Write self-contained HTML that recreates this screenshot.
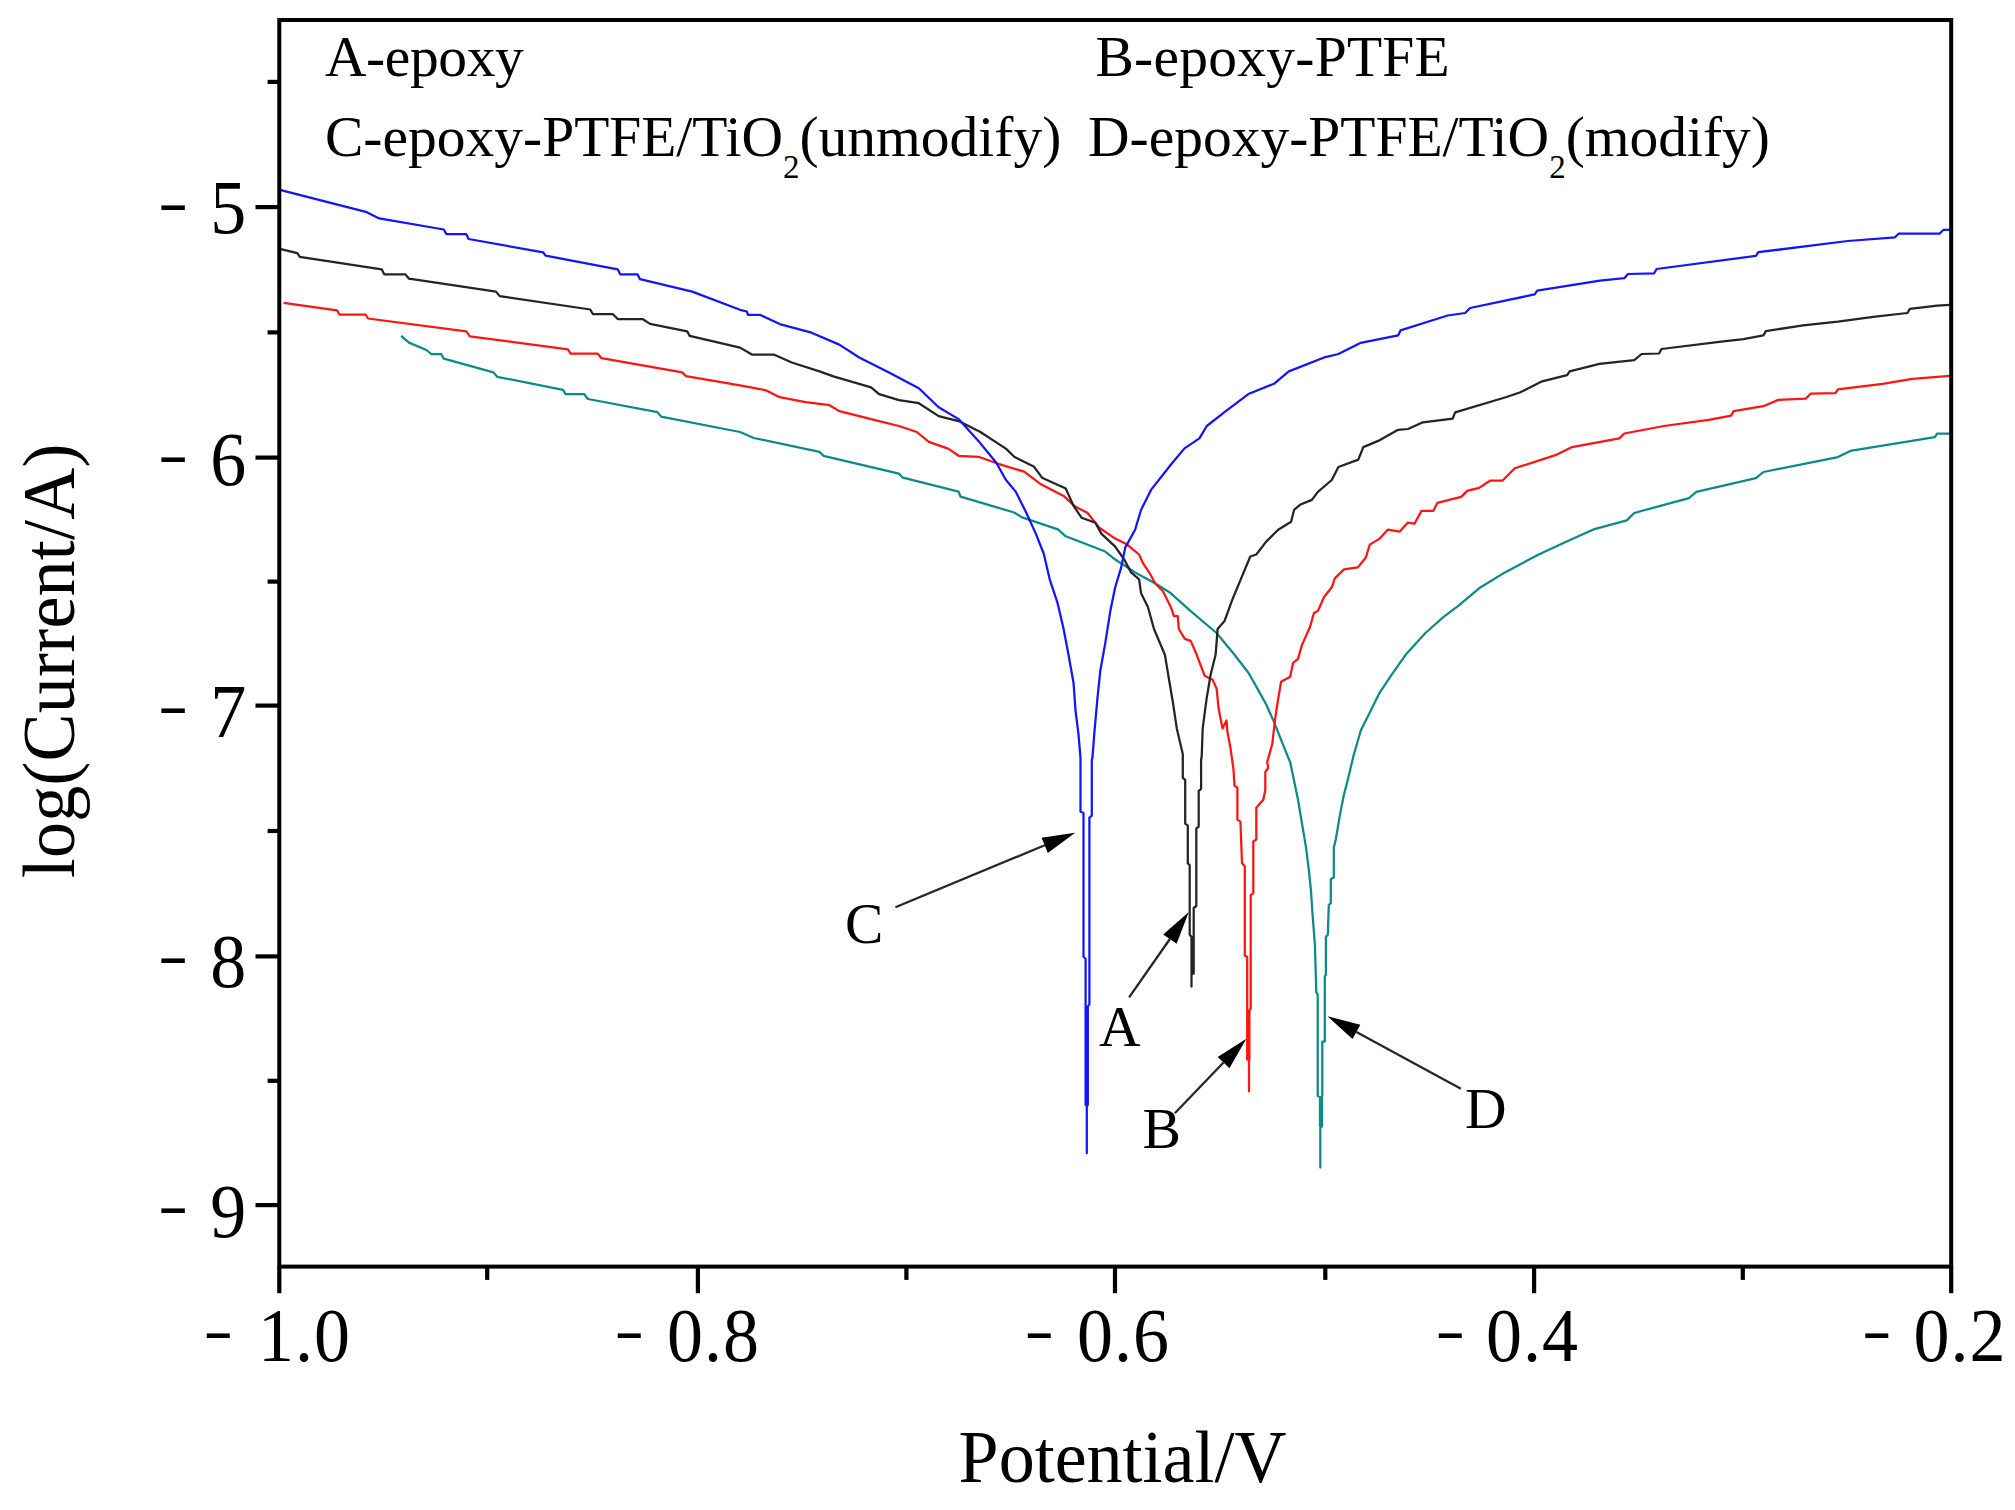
<!DOCTYPE html>
<html lang="en"><head><meta charset="utf-8"><title>Potentiodynamic polarization curves</title>
<style>html,body{margin:0;padding:0;background:#fff}body{width:2015px;height:1510px;overflow:hidden}svg{display:block}text{font-family:"Liberation Serif","Times New Roman",serif;fill:#000}</style>
</head><body>
<svg width="2015" height="1510" viewBox="0 0 2015 1510">
<rect x="0" y="0" width="2015" height="1510" fill="#fff"/>
<g id="curves">
<polyline points="401.1,335.9 409.0,342.6 426.4,350.0 431.4,354.2 441.3,354.2 443.8,358.7 493.5,372.4 497.2,376.8 563.0,389.8 565.5,394.0 584.1,394.0 587.9,399.0 657.4,412.1 661.1,416.6 740.0,432.0 753.9,438.0 819.5,451.9 823.5,455.8 899.0,473.7 902.9,477.7 958.6,491.6 960.5,496.6 1014.2,512.5 1022.1,517.4 1057.9,529.4 1065.8,536.3 1105.3,551.5 1115.2,559.5 1135.1,572.4 1155.0,583.3 1170.9,593.3 1190.7,611.1 1216.6,633.0 1234.5,654.8 1248.4,672.7 1256.3,686.6 1266.2,704.5 1274.2,722.4 1282.1,742.3 1290.1,762.1 1293.1,775.9 1298.0,799.7 1302.0,823.6 1306.0,847.4 1309.0,871.3 1311.0,891.1 1312.3,911.0 1314.9,944.8 1316.3,992.5 1317.7,994.5 1317.7,1096.0 1320.0,1097.0 1320.0,1126.5 1320.3,1126.5 1320.3,1167.6 1320.3,1126.5 1322.0,1126.5 1322.0,1097.0 1322.3,1096.0 1322.3,1041.5 1324.8,1041.5 1324.8,976.6 1325.9,974.6 1325.9,936.8 1327.8,934.8 1328.8,905.0 1330.8,903.1 1330.8,879.2 1333.8,877.2 1333.8,847.4 1335.8,839.5 1339.8,815.6 1343.7,795.8 1348.7,775.9 1353.9,754.2 1360.9,730.3 1369.8,712.5 1379.7,692.6 1391.7,674.7 1405.6,654.8 1425.4,633.0 1443.3,617.1 1459.2,605.2 1479.1,588.3 1504.9,572.4 1538.7,554.5 1564.5,542.6 1588.4,531.7 1594.5,529.1 1626.8,520.4 1634.2,513.0 1688.9,498.1 1696.3,491.8 1755.9,478.2 1763.4,472.0 1837.9,457.1 1850.3,450.9 1934.8,437.2 1937.3,433.5 1949.7,433.5" fill="none" stroke="#0a8a8a" stroke-width="2.25" stroke-linejoin="round" stroke-linecap="butt" opacity="1"/>
<polyline points="283.6,302.8 337.0,310.3 339.5,314.5 365.6,314.5 368.0,318.5 466.2,331.4 469.9,336.4 568.0,349.3 570.5,353.7 597.8,353.7 601.5,358.2 682.2,372.4 686.0,376.1 740.0,385.3 765.8,390.3 779.7,397.2 805.6,402.2 829.4,405.2 839.3,411.1 879.1,421.1 899.0,426.0 916.8,432.0 928.8,441.9 948.6,448.9 958.6,455.8 978.4,456.8 998.3,463.8 1024.1,471.7 1040.0,483.7 1063.6,495.9 1075.5,506.8 1087.4,512.8 1099.3,527.7 1115.2,538.6 1127.2,544.6 1139.1,554.5 1143.1,563.4 1151.0,575.4 1155.0,583.3 1162.9,591.3 1170.9,607.2 1173.9,616.1 1177.8,616.1 1178.8,629.0 1184.8,638.9 1190.7,640.9 1196.7,654.8 1204.6,675.7 1212.6,679.7 1216.6,688.6 1218.6,708.5 1222.5,728.4 1226.5,720.4 1227.5,732.3 1230.5,748.2 1233.5,769.9 1234.5,785.8 1237.4,787.8 1237.4,819.6 1240.4,821.6 1241.4,847.4 1242.0,863.3 1244.8,866.3 1244.8,955.7 1247.2,956.7 1247.2,1059.6 1249.0,1059.6 1249.0,1091.4 1249.0,1059.6 1249.4,1059.6 1249.4,1010.4 1250.7,1008.4 1250.7,895.1 1253.3,893.1 1253.3,841.5 1256.3,839.5 1256.3,807.7 1263.3,799.7 1265.3,789.8 1265.3,771.9 1268.2,768.0 1267.2,762.1 1272.2,744.3 1275.2,718.4 1278.2,698.6 1281.1,681.7 1290.1,676.7 1293.1,662.8 1298.0,658.8 1302.0,644.9 1310.0,627.0 1313.9,613.1 1317.9,611.1 1323.9,597.2 1331.8,587.3 1334.8,578.4 1344.0,569.4 1357.9,567.4 1365.8,557.5 1369.8,544.6 1379.7,538.6 1387.7,529.7 1399.6,531.7 1407.6,522.7 1414.5,523.7 1421.5,510.8 1433.4,510.8 1437.4,502.8 1461.2,496.9 1467.2,490.9 1479.1,487.9 1490.0,480.7 1502.4,480.7 1514.8,468.3 1557.0,454.6 1572.1,447.1 1619.3,438.4 1624.3,433.5 1664.0,426.0 1708.7,419.8 1731.1,415.6 1733.6,411.1 1763.4,406.2 1778.3,399.9 1805.6,398.7 1810.6,393.7 1835.4,393.2 1837.9,389.3 1882.6,383.8 1912.4,378.8 1949.7,375.9" fill="none" stroke="#ff1414" stroke-width="2.25" stroke-linejoin="round" stroke-linecap="butt" opacity="1"/>
<polyline points="279.9,248.9 297.3,253.1 299.7,256.9 381.7,269.3 384.2,274.3 405.3,274.3 409.0,278.7 496.0,291.6 499.7,296.1 590.3,309.5 592.8,314.0 612.7,314.0 617.7,319.0 642.5,319.0 650.0,323.9 687.2,331.4 689.7,335.9 740.0,347.6 751.9,354.5 773.8,354.5 791.7,362.5 819.5,371.4 833.4,376.4 871.1,387.3 879.1,394.2 899.0,400.2 918.8,403.2 938.7,416.1 958.6,421.1 980.4,432.0 1006.2,448.9 1014.2,456.8 1034.1,466.8 1042.0,477.7 1065.8,488.6 1073.5,505.8 1081.5,517.7 1095.4,522.7 1101.3,533.6 1115.2,546.6 1124.2,559.5 1131.1,572.4 1139.1,579.3 1141.1,593.3 1148.0,607.2 1154.0,629.0 1164.9,654.8 1168.9,678.7 1172.9,702.5 1176.8,728.4 1182.8,754.2 1182.8,777.9 1185.2,779.9 1185.2,823.6 1187.8,825.6 1187.8,863.3 1189.7,865.3 1189.7,934.8 1191.5,936.8 1191.5,986.5 1191.5,974.0 1193.7,973.6 1193.7,908.0 1196.3,906.0 1196.3,828.5 1198.7,826.6 1198.7,790.8 1201.1,788.8 1201.1,760.0 1201.7,756.2 1202.7,728.4 1206.6,698.6 1210.6,674.7 1215.6,654.8 1217.6,629.0 1224.5,621.1 1232.5,599.2 1242.4,575.4 1250.3,556.5 1256.3,554.5 1266.2,541.6 1278.2,529.7 1291.1,521.7 1294.1,509.8 1300.0,504.8 1311.9,499.9 1317.9,491.9 1331.8,480.0 1338.4,467.0 1358.3,459.6 1363.3,447.1 1378.2,440.9 1398.1,429.8 1408.0,429.0 1422.9,422.3 1452.7,418.6 1455.2,412.4 1504.9,397.5 1519.8,392.5 1542.1,381.3 1567.2,375.1 1569.6,371.4 1599.5,363.9 1634.2,360.2 1641.7,354.0 1659.1,353.5 1661.5,349.0 1721.2,341.6 1743.5,339.1 1763.4,335.4 1765.9,331.1 1803.1,325.4 1837.9,321.7 1875.2,316.7 1907.5,313.0 1909.9,308.8 1937.3,305.6 1949.7,304.8" fill="none" stroke="#242424" stroke-width="2.25" stroke-linejoin="round" stroke-linecap="butt" opacity="1"/>
<polyline points="279.9,189.8 366.8,212.2 379.2,218.4 443.8,229.5 446.3,234.0 466.2,234.0 468.6,239.0 543.2,252.4 545.6,255.6 617.7,269.3 620.2,274.3 637.5,274.3 640.0,279.2 692.2,291.6 740.0,309.8 746.8,311.5 748.0,314.8 759.9,314.8 779.7,324.1 811.5,332.7 839.3,344.6 859.2,357.5 889.0,372.4 918.8,388.3 938.7,407.2 958.6,419.1 978.4,440.9 996.3,462.8 1006.0,480.0 1015.9,491.9 1025.8,511.8 1035.8,533.6 1043.7,553.5 1049.7,579.3 1057.6,603.2 1063.6,629.0 1068.5,654.8 1073.5,682.7 1075.5,710.5 1078.5,734.3 1080.5,758.2 1080.5,811.7 1083.5,812.7 1083.5,956.7 1085.6,958.7 1085.6,1105.0 1086.8,1105.0 1086.8,1153.0 1086.8,1105.0 1087.8,1105.0 1087.8,1006.4 1089.4,1004.4 1089.4,817.6 1091.8,815.6 1091.8,760.0 1092.4,758.2 1094.4,732.3 1097.4,698.6 1100.3,670.7 1105.3,642.9 1110.3,611.1 1115.2,587.3 1121.2,567.4 1125.2,547.6 1135.1,529.7 1141.1,509.8 1151.0,489.9 1172.0,463.3 1184.5,448.4 1199.4,438.4 1206.8,426.0 1224.2,412.4 1249.0,393.7 1273.9,383.8 1288.8,371.4 1323.5,357.7 1338.4,354.0 1360.8,342.8 1398.1,335.4 1400.5,330.4 1447.7,315.5 1465.1,313.0 1470.1,308.0 1534.7,294.4 1537.2,290.7 1600.0,280.7 1624.3,278.2 1628.0,274.0 1654.1,273.3 1656.6,269.0 1755.9,255.9 1758.4,252.2 1847.8,241.0 1895.0,237.3 1898.8,233.5 1939.7,233.5 1943.5,229.8 1949.7,229.8" fill="none" stroke="#1414ff" stroke-width="2.25" stroke-linejoin="round" stroke-linecap="butt" opacity="1"/>
</g>
<g id="frame" stroke="#000" fill="none">
<rect x="279.3" y="20.0" width="1671.9" height="1246.6" stroke-width="4.0"/>
<line x1="279.3" y1="1266.6" x2="279.3" y2="1293.2" stroke-width="4.2"/>
<line x1="487.2" y1="1266.6" x2="487.2" y2="1279.9" stroke-width="4.2"/>
<line x1="697.9" y1="1266.6" x2="697.9" y2="1293.2" stroke-width="4.2"/>
<line x1="906.4" y1="1266.6" x2="906.4" y2="1279.9" stroke-width="4.2"/>
<line x1="1115.0" y1="1266.6" x2="1115.0" y2="1293.2" stroke-width="4.2"/>
<line x1="1325.3" y1="1266.6" x2="1325.3" y2="1279.9" stroke-width="4.2"/>
<line x1="1534.1" y1="1266.6" x2="1534.1" y2="1293.2" stroke-width="4.2"/>
<line x1="1742.8" y1="1266.6" x2="1742.8" y2="1279.9" stroke-width="4.2"/>
<line x1="1951.2" y1="1266.6" x2="1951.2" y2="1293.2" stroke-width="4.2"/>
<line x1="255.5" y1="207.1" x2="279.3" y2="207.1" stroke-width="4.2"/>
<line x1="255.5" y1="457.6" x2="279.3" y2="457.6" stroke-width="4.2"/>
<line x1="255.5" y1="705.6" x2="279.3" y2="705.6" stroke-width="4.2"/>
<line x1="255.5" y1="956.4" x2="279.3" y2="956.4" stroke-width="4.2"/>
<line x1="255.5" y1="1205.1" x2="279.3" y2="1205.1" stroke-width="4.2"/>
<line x1="267.6" y1="81.9" x2="279.3" y2="81.9" stroke-width="4.2"/>
<line x1="267.6" y1="332.4" x2="279.3" y2="332.4" stroke-width="4.2"/>
<line x1="267.6" y1="581.6" x2="279.3" y2="581.6" stroke-width="4.2"/>
<line x1="267.6" y1="831.0" x2="279.3" y2="831.0" stroke-width="4.2"/>
<line x1="267.6" y1="1080.8" x2="279.3" y2="1080.8" stroke-width="4.2"/>
</g>
<g id="arrows">
<line x1="895.4" y1="907.2" x2="1044.7" y2="845.3" stroke="#262626" stroke-width="2.3"/>
<polygon points="1075.2,832.7 1047.8,852.9 1044.7,845.3 1041.6,837.8" fill="#000"/>
<line x1="1129.1" y1="997.4" x2="1169.9" y2="939.0" stroke="#262626" stroke-width="2.3"/>
<polygon points="1188.8,912.0 1176.6,943.7 1169.9,939.0 1163.2,934.4" fill="#000"/>
<line x1="1174.8" y1="1113.3" x2="1223.5" y2="1062.5" stroke="#262626" stroke-width="2.3"/>
<polygon points="1246.4,1038.7 1229.4,1068.2 1223.5,1062.5 1217.7,1056.9" fill="#000"/>
<line x1="1460.9" y1="1088.7" x2="1356.4" y2="1031.9" stroke="#262626" stroke-width="2.3"/>
<polygon points="1327.4,1016.2 1360.3,1024.8 1356.4,1031.9 1352.5,1039.1" fill="#000"/>
</g>
<g id="labels">
<text x="845" y="943" font-size="57.5">C</text>
<text x="1099" y="1045.5" font-size="57.5">A</text>
<text x="1142.5" y="1148" font-size="57.5">B</text>
<text x="1465" y="1128" font-size="57.5">D</text>
</g>
<g id="legend">
<text x="325" y="75.7" font-size="57.5" letter-spacing="-0.4">A-epoxy</text>
<text x="1095.5" y="76" font-size="57.5" letter-spacing="0.25">B-epoxy-PTFE</text>
<text x="325" y="156" font-size="57.5">C-epoxy-PTFE/TiO<tspan font-size="33" dy="22">2</tspan><tspan dy="-22">(unmodify)</tspan></text>
<text x="1088" y="156" font-size="57.5">D-epoxy-PTFE/TiO<tspan font-size="33" dy="22">2</tspan><tspan dy="-22">(modify)</tspan></text>
</g>
<g id="ticklabels">
<text transform="translate(158.04,221.99) scale(1.2565,0.8366)" font-size="72">-</text>
<text transform="translate(210.20,232.70) scale(1.0000,1.0650)" font-size="72">5</text>
<text transform="translate(158.04,473.79) scale(1.2565,0.8366)" font-size="72">-</text>
<text transform="translate(210.20,484.70) scale(1.0000,1.0650)" font-size="72">6</text>
<text transform="translate(158.04,725.19) scale(1.2565,0.8366)" font-size="72">-</text>
<text transform="translate(210.20,737.30) scale(1.0000,1.0650)" font-size="72">7</text>
<text transform="translate(158.04,974.69) scale(1.2565,0.8366)" font-size="72">-</text>
<text transform="translate(210.20,986.60) scale(1.0000,1.0650)" font-size="72">8</text>
<text transform="translate(158.04,1224.89) scale(1.2565,0.8366)" font-size="72">-</text>
<text transform="translate(210.20,1236.60) scale(1.0000,1.0650)" font-size="72">9</text>
<text transform="translate(203.51,1350.39) scale(1.2297,0.8366)" font-size="72">-</text>
<text transform="translate(258.00,1360.60) scale(1.0000,1.0500)" font-size="72" letter-spacing="1">1.0</text>
<text transform="translate(614.51,1350.39) scale(1.2297,0.8366)" font-size="72">-</text>
<text transform="translate(666.90,1360.60) scale(1.0000,1.0500)" font-size="72" letter-spacing="1">0.8</text>
<text transform="translate(1024.51,1350.39) scale(1.2297,0.8366)" font-size="72">-</text>
<text transform="translate(1077.10,1360.60) scale(1.0000,1.0500)" font-size="72" letter-spacing="1">0.6</text>
<text transform="translate(1435.41,1350.39) scale(1.2297,0.8366)" font-size="72">-</text>
<text transform="translate(1486.00,1360.60) scale(1.0000,1.0500)" font-size="72" letter-spacing="1">0.4</text>
<text transform="translate(1861.91,1350.39) scale(1.2297,0.8366)" font-size="72">-</text>
<text transform="translate(1913.50,1360.60) scale(1.0000,1.0500)" font-size="72" letter-spacing="1">0.2</text>
</g>
<g id="axislabels">
<text transform="translate(958.60,1481.60) scale(1.0000,1.0400)" font-size="72">Potential/V</text>
<text transform="translate(74.3,878.3) rotate(-90) scale(1,1.04)" font-size="72" letter-spacing="0.23">log(Current/A)</text>
</g>
</svg>
</body></html>
